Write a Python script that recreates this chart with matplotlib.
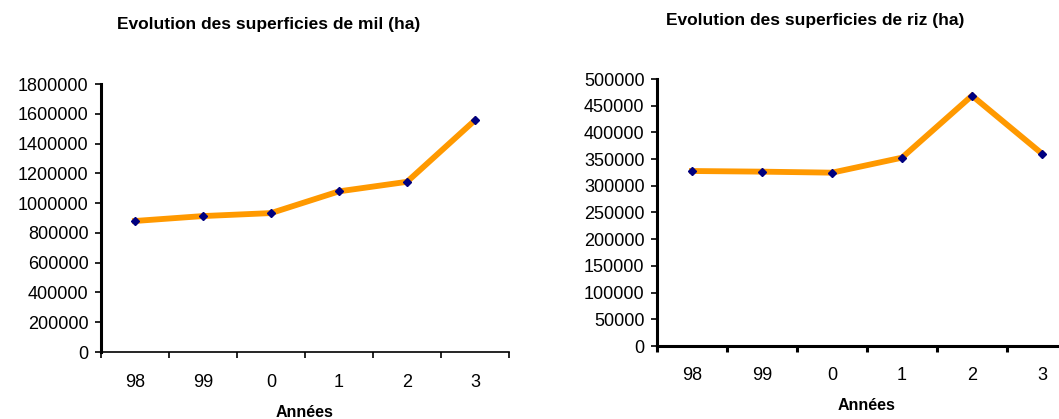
import matplotlib
matplotlib.use("Agg")
import matplotlib.pyplot as plt

plt.rcParams['font.family'] = ['Liberation Sans', 'DejaVu Sans']

years = ["98", "99", "0", "1", "2", "3"]
mil = [880000, 913000, 933000, 1079000, 1143000, 1557000]
riz = [327700, 326500, 324600, 352700, 468800, 360200]
mil_ticks = list(range(0, 1800001, 200000))
riz_ticks = list(range(0, 500001, 50000))

fig = plt.figure(figsize=(10.59, 4.19), dpi=100)

def draw(ax, vals, yticks, ymax, title, title_xy, xlabel_xy, spine_lw, xpad):
    x = list(range(len(vals)))
    ax.plot(x, vals, color='#FF9900', lw=4.2, solid_joinstyle='miter', zorder=2)
    ax.plot(x, vals, ls='none', marker='D', ms=3.8, color='#000080', zorder=3)
    ax.set_xlim(-0.5, len(vals) - 0.5)
    ax.set_ylim(0, ymax)
    ax.set_yticks(yticks)
    ax.set_yticklabels([str(v) for v in yticks], fontsize=13)
    ax.set_xticks([i + 0.5 for i in range(-1, len(vals))], minor=False)
    ax.set_xticklabels([])
    ax.set_xticks(x, minor=True)
    ax.set_xticklabels(years, minor=True, fontsize=13)
    ax.tick_params(axis='x', which='minor', length=0, pad=xpad)
    ax.tick_params(axis='x', which='major', length=4, width=spine_lw, direction='out')
    ax.tick_params(axis='y', length=4, width=1.2, direction='out', pad=5)
    for s in ['top', 'right']:
        ax.spines[s].set_visible(False)
    ax.spines['left'].set_linewidth(2.2)
    ax.spines['bottom'].set_linewidth(spine_lw)
    fig.text(title_xy[0], title_xy[1], title, ha='center', va='center',
             fontsize=12.5, fontweight='bold')
    fig.text(xlabel_xy[0], xlabel_xy[1], "Années", ha='center', va='center',
             fontsize=11.5, fontweight='bold')

ax1 = fig.add_axes([101/1059, 1 - 352/419, 408/1059, 268/419])
draw(ax1, mil, mil_ticks, 1800000, "Evolution des superficies de mil (ha)",
     (269/1059, 1 - 24/419), (305/1059, 1 - 412/419), 1.2, 16)

ax2 = fig.add_axes([657/1059, 1 - 346/419, 420/1059, 267/419])
draw(ax2, riz, riz_ticks, 500000, "Evolution des superficies de riz (ha)",
     (815/1059, 1 - 20/419), (867/1059, 1 - 405/419), 2.2, 15)

fig.savefig("out.png", dpi=100)
